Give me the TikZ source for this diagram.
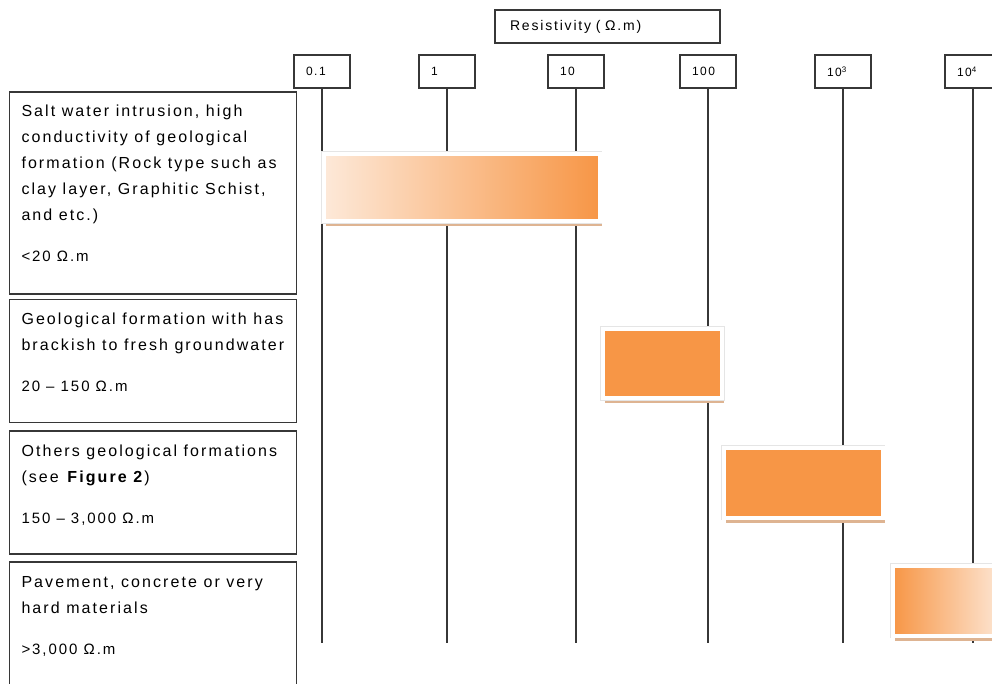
\documentclass[tikz,border=0pt]{standalone}
\usepackage{fontspec}
\setmainfont{Liberation Sans}[LetterSpace=13]
\usetikzlibrary{positioning, shadows}

\definecolor{barorange}{RGB}{247,150,70}
\definecolor{barlight}{RGB}{253,233,217}
\definecolor{bartan}{RGB}{222,180,146}
\definecolor{edgegray}{RGB}{55,55,55}

\newcommand{\cellbox}[3]{\parbox[c][#1][t]{263pt}{\raggedright
    \fontsize{16}{26}\selectfont\rule{0pt}{25pt}#2\par
    \vspace{15pt}\fontsize{15}{26}\selectfont #3\par}}

\begin{document}
\begin{tikzpicture}[
    x=1pt, y=-1pt,
    cell/.style={draw=edgegray, line width=1.3pt, anchor=north west, inner xsep=12pt, inner ysep=0pt, outer sep=0pt},
    title/.style={draw=edgegray, line width=1.3pt, text width=195pt, inner xsep=15pt, minimum height=33pt, align=left, font=\fontsize{14}{16}\selectfont},
    tick/.style={draw=edgegray, line width=1.3pt, fill=white, text width=32pt, inner xsep=12pt, minimum height=33pt, align=left, font=\fontsize{12}{14}\selectfont},
    bar/.style={anchor=north west, inner sep=0pt, outer sep=0pt, drop shadow={shadow xshift=2pt, shadow yshift=-5pt, fill=bartan, opacity=1}, preaction={draw=black!10, line width=5.2pt}, draw=white, line width=4pt},
    line/.style={draw=edgegray, line width=1.3pt}
]
    \clip (0,0) rectangle (992,684);

    % Scale
    \node [title] (resistivity) at (607.5,26.5) {Resistivity ( Ω.m)};
    \foreach \x/\val [count=\i] in {322/0.1, 447/1, 576/10, 708/100, 843/10\textsuperscript{3}, 973/10\textsuperscript{4}} {
        \node [tick] (tick\i) at (\x,71.5) {\val};
        \coordinate (foot\i) at (\x,643);
        \path [line] (tick\i) -- (foot\i);
    }

    % Formations
    \node [cell] (saltwater) at (9.5,92) {\cellbox{202pt}{Salt water intrusion, high\\conductivity of geological\\formation (Rock type such as\\clay layer, Graphitic Schist,\\and etc.)}{<20 Ω.m}};
    \node [cell] (brackish) at (9.5,299.5) {\cellbox{123pt}{Geological formation with has\\brackish to fresh groundwater}{20 -- 150 Ω.m}};
    \node [cell] (others) at (9.5,431) {\cellbox{123pt}{Others geological formations\\(see \textbf{Figure 2})}{150 -- 3,000 Ω.m}};
    \node [cell] (pavement) at (9.5,562) {\cellbox{140pt}{Pavement, concrete or very\\hard materials}{>3,000 Ω.m}};

    % Ranges
    \node [bar, left color=barlight, right color=barorange, minimum width=276pt, minimum height=67pt] (saltbar) at (323.5,154) {};
    \node [bar, fill=barorange, minimum width=119pt, minimum height=69pt] (brackishbar) at (603,329) {};
    \node [bar, fill=barorange, minimum width=159pt, minimum height=70pt] (othersbar) at (723.7,447.5) {};
    \node [bar, left color=barorange, right color=barlight, minimum width=112pt, minimum height=70pt] (pavementbar) at (893,565.5) {};

\end{tikzpicture}
\end{document}
